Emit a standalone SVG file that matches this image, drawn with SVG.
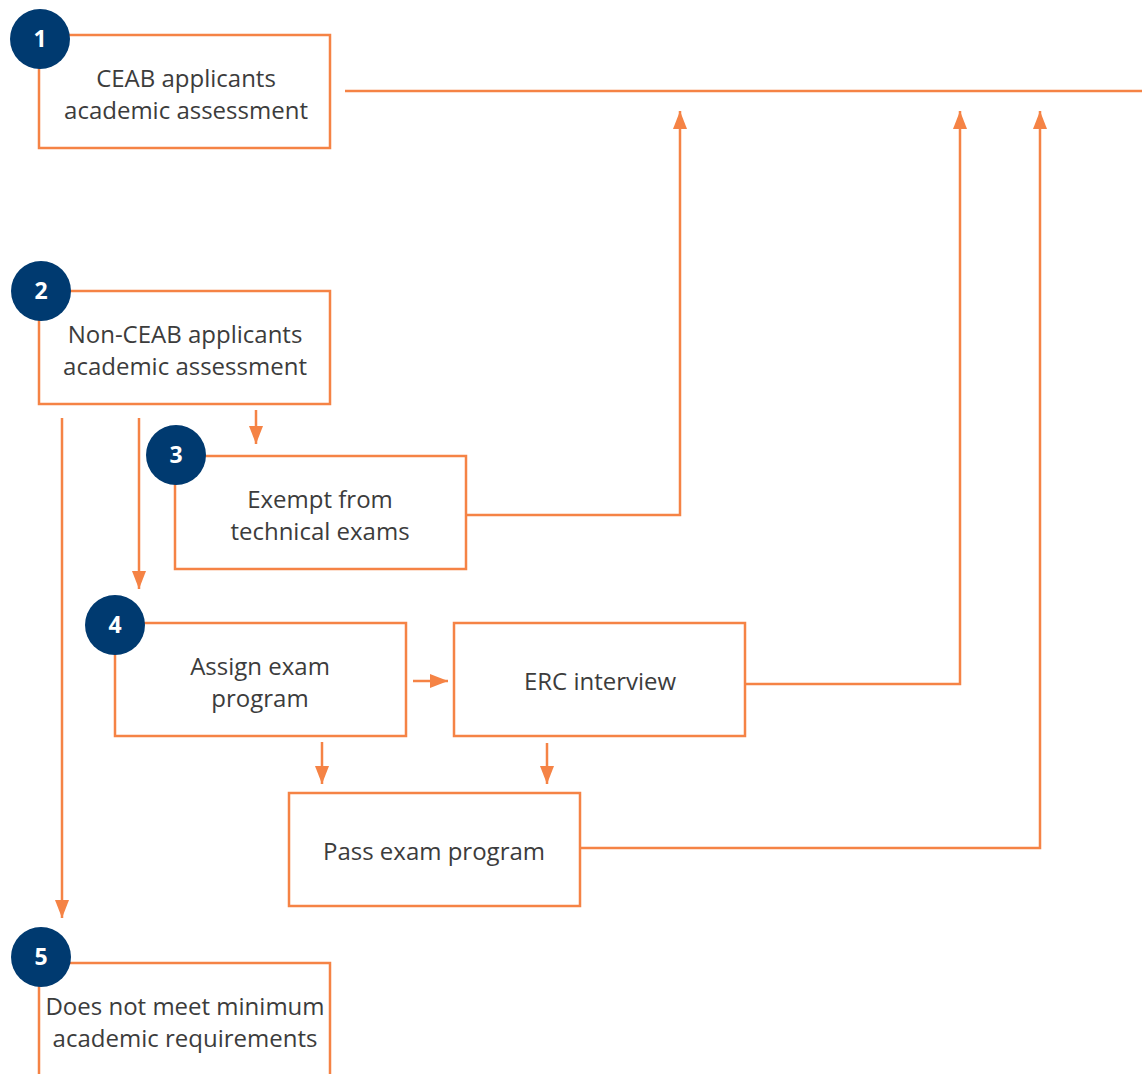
<svg xmlns="http://www.w3.org/2000/svg" width="1142" height="1074" viewBox="0 0 1142 1074">
<style>
.box{fill:#fff;stroke:#f58345;stroke-width:2.5}
.ln{fill:none;stroke:#f58345;stroke-width:2.5}
.t{font-family:"Open Sans","Noto Sans",sans-serif;font-size:24px;fill:#3c3c3c;text-anchor:middle}
.c{fill:#003a70}
.n{font-family:"Open Sans","Noto Sans",sans-serif;font-size:23px;font-weight:bold;fill:#fff;text-anchor:middle}
</style>
<defs>
<marker id="ah" viewBox="0 0 18 14" refX="18" refY="7" markerWidth="18" markerHeight="14" markerUnits="userSpaceOnUse" orient="auto">
<path d="M0,0 L18,7 L0,14 Z" fill="#f58345"/>
</marker>
</defs>
<g id="connectors">
<line class="ln" x1="345" y1="91" x2="1142" y2="91"/>
<polyline class="ln" points="466,515 680,515 680,111" marker-end="url(#ah)"/>
<polyline class="ln" points="745,684 960,684 960,111" marker-end="url(#ah)"/>
<polyline class="ln" points="580,848 1040,848 1040,111" marker-end="url(#ah)"/>
<line class="ln" x1="62" y1="418" x2="62" y2="918" marker-end="url(#ah)"/>
<line class="ln" x1="139" y1="418" x2="139" y2="589" marker-end="url(#ah)"/>
<line class="ln" x1="256" y1="410" x2="256" y2="444" marker-end="url(#ah)"/>
<line class="ln" x1="413" y1="681" x2="448" y2="681" marker-end="url(#ah)"/>
<line class="ln" x1="322" y1="742" x2="322" y2="784" marker-end="url(#ah)"/>
<line class="ln" x1="547" y1="743" x2="547" y2="784" marker-end="url(#ah)"/>
</g>
<g id="node1">
<rect class="box" x="39" y="35" width="291" height="113"/>
<text class="t" x="186" y="87">CEAB applicants</text>
<text class="t" x="186" y="119">academic assessment</text>
<circle class="c" cx="40" cy="39" r="30"/>
<text class="n" x="40" y="47">1</text>
</g>
<g id="node2">
<rect class="box" x="39" y="291" width="291" height="113"/>
<text class="t" x="185" y="343">Non-CEAB applicants</text>
<text class="t" x="185" y="375">academic assessment</text>
<circle class="c" cx="41" cy="291" r="30"/>
<text class="n" x="41" y="299">2</text>
</g>
<g id="node3">
<rect class="box" x="175" y="456" width="291" height="113"/>
<text class="t" x="320" y="508">Exempt from</text>
<text class="t" x="320" y="540">technical exams</text>
<circle class="c" cx="176" cy="455" r="30"/>
<text class="n" x="176" y="463">3</text>
</g>
<g id="node4">
<rect class="box" x="115" y="623" width="291" height="113"/>
<text class="t" x="260" y="675">Assign exam</text>
<text class="t" x="260" y="707">program</text>
<circle class="c" cx="115" cy="625" r="30"/>
<text class="n" x="115" y="633">4</text>
</g>
<g id="node-erc">
<rect class="box" x="454" y="623" width="291" height="113"/>
<text class="t" x="600" y="690">ERC interview</text>
</g>
<g id="node-pass">
<rect class="box" x="289" y="793" width="291" height="113"/>
<text class="t" x="434" y="860">Pass exam program</text>
</g>
<g id="node5">
<rect class="box" x="39" y="963" width="291" height="130"/>
<text class="t" x="185" y="1015">Does not meet minimum</text>
<text class="t" x="185" y="1047">academic requirements</text>
<circle class="c" cx="41" cy="957" r="30"/>
<text class="n" x="41" y="965">5</text>
</g>
</svg>
